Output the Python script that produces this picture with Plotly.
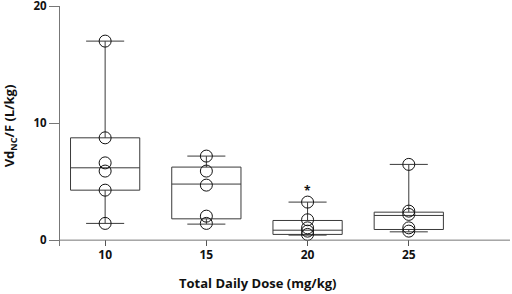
import plotly.graph_objects as go

doses = [10, 15, 20, 25]
q1 = [4.27, 1.82, 0.49, 0.91]
median = [6.18, 4.79, 0.85, 2.11]
q3 = [8.74, 6.24, 1.68, 2.39]
lowerfence = [1.43, 1.37, 0.43, 0.71]
upperfence = [17.0, 7.18, 3.25, 6.47]

pts_x = [10, 10, 10, 10, 10, 10,
         15, 15, 15, 15, 15,
         20, 20, 20, 20, 20,
         25, 25, 25, 25, 25]
pts_y = [17.0, 8.74, 6.6, 5.9, 4.27, 1.43,
         7.18, 5.9, 4.7, 2.05, 1.43,
         3.25, 1.74, 1.05, 0.77, 0.49,
         6.47, 2.48, 2.2, 1.05, 0.77]

x_ticks = [10, 15, 20, 25, 30]
x_ticktext = ["10", "15", "20", "25", ""]
y_ticks = [0, 10, 20]

fig = go.Figure()
fig.add_trace(go.Box(
    x=doses, q1=q1, median=median, q3=q3,
    lowerfence=lowerfence, upperfence=upperfence,
    width=3.42, whiskerwidth=0.55, boxpoints=False,
    fillcolor="rgba(0,0,0,0)", line=dict(color="#3a3a3a", width=1),
    showlegend=False, hoverinfo="skip"))
fig.add_trace(go.Scatter(
    x=pts_x, y=pts_y, mode="markers",
    marker=dict(symbol="circle-open", size=12, color="#111111", line=dict(width=1)),
    showlegend=False))

fig.add_shape(type="line", xref="paper", x0=0, x1=1, yref="y", y0=0, y1=0,
              line=dict(color="#777777", width=1))
fig.add_annotation(x=20, y=4.27, text="*", showarrow=False,
                   font=dict(size=12, color="#111111", weight="bold"))
fig.add_annotation(xref="paper", yref="paper", x=(258 - 60) / 450, y=0, yshift=-26,
                   text="Total Daily Dose (mg/kg)", showarrow=False,
                   xanchor="center", yanchor="top",
                   font=dict(size=13, color="#111111", family="Open Sans", weight="bold"))

fig.update_layout(
    width=512, height=294,
    margin=dict(l=60, r=2, t=6, b=48, autoexpand=False),
    paper_bgcolor="white", plot_bgcolor="white",
    font=dict(family="Open Sans", size=12, color="#111111", weight="bold"),
    xaxis=dict(range=[7.77, 30], tickvals=x_ticks, ticktext=x_ticktext,
               showgrid=False, zeroline=False, showline=False, automargin=False,
               ticks="inside", ticklen=6, tickcolor="#555555",
               tickfont=dict(size=12, weight="bold")),
    yaxis=dict(range=[-0.5, 20], tickvals=y_ticks, showgrid=False, zeroline=False,
               showline=True, linecolor="#777777", linewidth=1, automargin=False,
               ticks="outside", ticklen=10, tickcolor="#777777",
               ticklabeloverflow="allow",
               tickfont=dict(size=11.5, weight="bold"),
               title=dict(text="Vd<sub>NC</sub>/F (L/kg)", standoff=16,
                          font=dict(size=13, weight="bold"))),
)
fig.write_html("out.html", config={"displayModeBar": False},
               post_script="document.body.style.margin='0';")
